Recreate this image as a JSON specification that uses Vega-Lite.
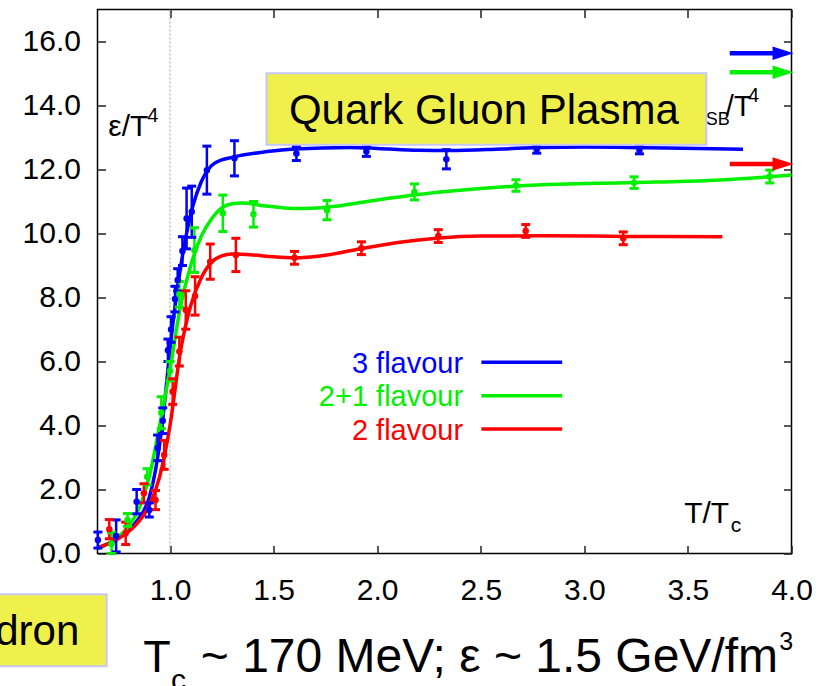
{
  "$schema": "https://vega.github.io/schema/vega-lite/v6.json",
  "width": 694,
  "height": 544,
  "autosize": "none",
  "padding": {"left": 97.5, "top": 9.5, "right": 35.5, "bottom": 132.5},
  "background": "#ffffff",
  "config": {
    "view": {"stroke": "#000000", "strokeWidth": 1.5},
    "font": "Liberation Sans",
    "text": {"font": "Liberation Sans"}
  },
  "datasets": {
    "pts": [
      {"s": "3 flavour", "x": 0.652, "y": 0.42, "lo": 0.17, "hi": 0.67},
      {"s": "3 flavour", "x": 0.74, "y": 0.55, "lo": 0.05, "hi": 1.05},
      {"s": "3 flavour", "x": 0.839, "y": 1.62, "lo": 1.24, "hi": 2.0},
      {"s": "3 flavour", "x": 0.9, "y": 1.36, "lo": 1.14, "hi": 1.58},
      {"s": "3 flavour", "x": 0.94, "y": 3.3, "lo": 2.9, "hi": 3.7},
      {"s": "3 flavour", "x": 0.965, "y": 4.15, "lo": 3.75, "hi": 4.55},
      {"s": "3 flavour", "x": 0.99, "y": 6.35, "lo": 6.0, "hi": 6.7},
      {"s": "3 flavour", "x": 1.005, "y": 7.0, "lo": 6.6, "hi": 7.4},
      {"s": "3 flavour", "x": 1.024, "y": 7.95, "lo": 7.55, "hi": 8.35},
      {"s": "3 flavour", "x": 1.037, "y": 8.55, "lo": 8.2, "hi": 8.9},
      {"s": "3 flavour", "x": 1.06, "y": 9.45, "lo": 9.0, "hi": 9.9},
      {"s": "3 flavour", "x": 1.08, "y": 10.47, "lo": 9.52, "hi": 11.42},
      {"s": "3 flavour", "x": 1.105, "y": 10.68, "lo": 9.88, "hi": 11.48},
      {"s": "3 flavour", "x": 1.178, "y": 11.98, "lo": 11.23, "hi": 12.73},
      {"s": "3 flavour", "x": 1.311, "y": 12.35, "lo": 11.8, "hi": 12.9},
      {"s": "3 flavour", "x": 1.61, "y": 12.5, "lo": 12.28, "hi": 12.72},
      {"s": "3 flavour", "x": 1.948, "y": 12.56, "lo": 12.41, "hi": 12.71},
      {"s": "3 flavour", "x": 2.334, "y": 12.32, "lo": 12.02, "hi": 12.62},
      {"s": "3 flavour", "x": 2.77, "y": 12.63, "lo": 12.51, "hi": 12.75},
      {"s": "3 flavour", "x": 3.266, "y": 12.61, "lo": 12.49, "hi": 12.73},
      {"s": "2+1 flavour", "x": 0.718, "y": 0.3, "lo": 0.0, "hi": 0.65},
      {"s": "2+1 flavour", "x": 0.795, "y": 1.05, "lo": 0.85, "hi": 1.25},
      {"s": "2+1 flavour", "x": 0.89, "y": 2.4, "lo": 2.15, "hi": 2.65},
      {"s": "2+1 flavour", "x": 0.958, "y": 4.4, "lo": 3.9, "hi": 4.9},
      {"s": "2+1 flavour", "x": 1.0, "y": 5.7, "lo": 5.4, "hi": 6.0},
      {"s": "2+1 flavour", "x": 1.045, "y": 8.1, "lo": 7.7, "hi": 8.5},
      {"s": "2+1 flavour", "x": 1.118, "y": 9.48, "lo": 8.78, "hi": 10.18},
      {"s": "2+1 flavour", "x": 1.255, "y": 10.63, "lo": 10.06, "hi": 11.2},
      {"s": "2+1 flavour", "x": 1.403, "y": 10.6, "lo": 10.2, "hi": 11.0},
      {"s": "2+1 flavour", "x": 1.758, "y": 10.73, "lo": 10.43, "hi": 11.03},
      {"s": "2+1 flavour", "x": 2.18, "y": 11.3, "lo": 11.05, "hi": 11.55},
      {"s": "2+1 flavour", "x": 2.67, "y": 11.5, "lo": 11.32, "hi": 11.68},
      {"s": "2+1 flavour", "x": 3.24, "y": 11.59, "lo": 11.41, "hi": 11.77},
      {"s": "2+1 flavour", "x": 3.895, "y": 11.78, "lo": 11.58, "hi": 11.98},
      {"s": "2 flavour", "x": 0.707, "y": 0.76, "lo": 0.46, "hi": 1.06},
      {"s": "2 flavour", "x": 0.786, "y": 0.63, "lo": 0.28, "hi": 0.98},
      {"s": "2 flavour", "x": 0.874, "y": 1.88, "lo": 1.58, "hi": 2.18},
      {"s": "2 flavour", "x": 0.93, "y": 1.67, "lo": 1.37, "hi": 1.97},
      {"s": "2 flavour", "x": 0.972, "y": 3.08, "lo": 2.63, "hi": 3.53},
      {"s": "2 flavour", "x": 1.013, "y": 5.06, "lo": 4.66, "hi": 5.46},
      {"s": "2 flavour", "x": 1.045, "y": 6.31, "lo": 5.86, "hi": 6.76},
      {"s": "2 flavour", "x": 1.076, "y": 7.61, "lo": 7.01, "hi": 8.21},
      {"s": "2 flavour", "x": 1.121, "y": 8.05, "lo": 7.45, "hi": 8.65},
      {"s": "2 flavour", "x": 1.194, "y": 9.12, "lo": 8.57, "hi": 9.67},
      {"s": "2 flavour", "x": 1.318, "y": 9.33, "lo": 8.81, "hi": 9.85},
      {"s": "2 flavour", "x": 1.601, "y": 9.24, "lo": 9.04, "hi": 9.44},
      {"s": "2 flavour", "x": 1.924, "y": 9.54, "lo": 9.34, "hi": 9.74},
      {"s": "2 flavour", "x": 2.295, "y": 9.92, "lo": 9.72, "hi": 10.12},
      {"s": "2 flavour", "x": 2.717, "y": 10.08, "lo": 9.88, "hi": 10.28},
      {"s": "2 flavour", "x": 3.188, "y": 9.85, "lo": 9.65, "hi": 10.05}
    ],
    "fit": [
      {"s": "3 flavour", "x": 0.65, "y": 0.18},
      {"s": "3 flavour", "x": 0.7, "y": 0.3},
      {"s": "3 flavour", "x": 0.75, "y": 0.48},
      {"s": "3 flavour", "x": 0.8, "y": 0.72},
      {"s": "3 flavour", "x": 0.85, "y": 1.1},
      {"s": "3 flavour", "x": 0.9, "y": 1.75},
      {"s": "3 flavour", "x": 0.93, "y": 2.6},
      {"s": "3 flavour", "x": 0.96, "y": 3.9},
      {"s": "3 flavour", "x": 0.98, "y": 5.1},
      {"s": "3 flavour", "x": 1.0, "y": 6.4},
      {"s": "3 flavour", "x": 1.02, "y": 7.5},
      {"s": "3 flavour", "x": 1.05, "y": 8.9},
      {"s": "3 flavour", "x": 1.08, "y": 10.0},
      {"s": "3 flavour", "x": 1.11, "y": 10.85},
      {"s": "3 flavour", "x": 1.15, "y": 11.6},
      {"s": "3 flavour", "x": 1.2, "y": 12.12},
      {"s": "3 flavour", "x": 1.25, "y": 12.3},
      {"s": "3 flavour", "x": 1.3, "y": 12.38},
      {"s": "3 flavour", "x": 1.47, "y": 12.56},
      {"s": "3 flavour", "x": 1.6, "y": 12.64},
      {"s": "3 flavour", "x": 1.87, "y": 12.69},
      {"s": "3 flavour", "x": 2.0, "y": 12.66},
      {"s": "3 flavour", "x": 2.2, "y": 12.6},
      {"s": "3 flavour", "x": 2.35, "y": 12.59},
      {"s": "3 flavour", "x": 2.6, "y": 12.64},
      {"s": "3 flavour", "x": 2.8, "y": 12.69},
      {"s": "3 flavour", "x": 3.0, "y": 12.7},
      {"s": "3 flavour", "x": 3.3, "y": 12.68},
      {"s": "3 flavour", "x": 3.55, "y": 12.66},
      {"s": "3 flavour", "x": 3.766, "y": 12.63},
      {"s": "2+1 flavour", "x": 0.65, "y": 0.15},
      {"s": "2+1 flavour", "x": 0.7, "y": 0.3},
      {"s": "2+1 flavour", "x": 0.75, "y": 0.52},
      {"s": "2+1 flavour", "x": 0.8, "y": 0.85},
      {"s": "2+1 flavour", "x": 0.85, "y": 1.4},
      {"s": "2+1 flavour", "x": 0.9, "y": 2.4},
      {"s": "2+1 flavour", "x": 0.95, "y": 4.0},
      {"s": "2+1 flavour", "x": 1.0, "y": 5.75},
      {"s": "2+1 flavour", "x": 1.05, "y": 7.7},
      {"s": "2+1 flavour", "x": 1.1, "y": 9.0},
      {"s": "2+1 flavour", "x": 1.15, "y": 9.9},
      {"s": "2+1 flavour", "x": 1.2, "y": 10.45},
      {"s": "2+1 flavour", "x": 1.25, "y": 10.8},
      {"s": "2+1 flavour", "x": 1.3, "y": 10.93},
      {"s": "2+1 flavour", "x": 1.35, "y": 10.95},
      {"s": "2+1 flavour", "x": 1.45, "y": 10.87},
      {"s": "2+1 flavour", "x": 1.55, "y": 10.8},
      {"s": "2+1 flavour", "x": 1.65, "y": 10.78},
      {"s": "2+1 flavour", "x": 1.8, "y": 10.85},
      {"s": "2+1 flavour", "x": 2.0, "y": 11.05},
      {"s": "2+1 flavour", "x": 2.2, "y": 11.22},
      {"s": "2+1 flavour", "x": 2.4, "y": 11.35},
      {"s": "2+1 flavour", "x": 2.6, "y": 11.45},
      {"s": "2+1 flavour", "x": 2.8, "y": 11.52},
      {"s": "2+1 flavour", "x": 3.0, "y": 11.56},
      {"s": "2+1 flavour", "x": 3.3, "y": 11.6},
      {"s": "2+1 flavour", "x": 3.6, "y": 11.66},
      {"s": "2+1 flavour", "x": 3.8, "y": 11.73},
      {"s": "2+1 flavour", "x": 4.0, "y": 11.83},
      {"s": "2 flavour", "x": 0.65, "y": 0.17},
      {"s": "2 flavour", "x": 0.7, "y": 0.3},
      {"s": "2 flavour", "x": 0.75, "y": 0.46},
      {"s": "2 flavour", "x": 0.8, "y": 0.68},
      {"s": "2 flavour", "x": 0.85, "y": 1.0},
      {"s": "2 flavour", "x": 0.9, "y": 1.5},
      {"s": "2 flavour", "x": 0.95, "y": 2.4},
      {"s": "2 flavour", "x": 1.0, "y": 4.0},
      {"s": "2 flavour", "x": 1.05, "y": 6.3},
      {"s": "2 flavour", "x": 1.1, "y": 7.75},
      {"s": "2 flavour", "x": 1.15, "y": 8.6},
      {"s": "2 flavour", "x": 1.2, "y": 9.1},
      {"s": "2 flavour", "x": 1.25, "y": 9.3},
      {"s": "2 flavour", "x": 1.3, "y": 9.36},
      {"s": "2 flavour", "x": 1.4, "y": 9.33},
      {"s": "2 flavour", "x": 1.5, "y": 9.27},
      {"s": "2 flavour", "x": 1.6, "y": 9.24},
      {"s": "2 flavour", "x": 1.75, "y": 9.32},
      {"s": "2 flavour", "x": 1.9, "y": 9.5},
      {"s": "2 flavour", "x": 2.1, "y": 9.72},
      {"s": "2 flavour", "x": 2.3, "y": 9.86},
      {"s": "2 flavour", "x": 2.5, "y": 9.92},
      {"s": "2 flavour", "x": 2.8, "y": 9.93},
      {"s": "2 flavour", "x": 3.2, "y": 9.91},
      {"s": "2 flavour", "x": 3.666, "y": 9.9}
    ],
    "sb": [
      {"s": "3 flavour", "x": 3.702, "x2": 3.93, "tip": 4.01, "y": 15.63},
      {"s": "2+1 flavour", "x": 3.702, "x2": 3.93, "tip": 4.01, "y": 15.04},
      {"s": "2 flavour", "x": 3.702, "x2": 3.93, "tip": 4.01, "y": 12.17}
    ],
    "leg": [
      {"s": "3 flavour", "label": "3 flavour", "tx": 2.415, "ty": 5.65, "x": 2.503, "x2": 2.893, "y": 5.975},
      {"s": "2+1 flavour", "label": "2+1 flavour", "tx": 2.415, "ty": 4.61, "x": 2.503, "x2": 2.893, "y": 4.93},
      {"s": "2 flavour", "label": "2 flavour", "tx": 2.415, "ty": 3.56, "x": 2.503, "x2": 2.893, "y": 3.89}
    ]
  },
  "layer": [
    {
      "data": {"values": [{"x": 1.0}]},
      "mark": {"type": "rule", "color": "#999999", "strokeWidth": 1, "strokeDash": [2, 2]},
      "encoding": {
        "x": {"field": "x", "type": "quantitative", "scale": {"domain": [0.65, 4], "nice": false, "zero": false}, "axis": null}
      }
    },
    {
      "data": {"name": "fit"},
      "mark": {"type": "line", "interpolate": "monotone", "strokeWidth": 3.5},
      "encoding": {
        "x": {"field": "x", "type": "quantitative", "scale": {"domain": [0.65, 4], "nice": false, "zero": false},
          "axis": {"orient": "bottom", "values": [1, 1.5, 2, 2.5, 3, 3.5, 4], "format": ".1f", "title": null, "domain": false, "grid": false,
            "labelFont": "Liberation Sans", "labelFontSize": 30, "labelColor": "#000000", "labelFlush": false, "labelOverlap": false,
            "tickSize": -8, "tickColor": "#222222", "tickWidth": 1.5, "labelPadding": 30}},
        "y": {"field": "y", "type": "quantitative", "scale": {"domain": [0, 17], "nice": false, "zero": false},
          "axis": {"orient": "left", "values": [0, 2, 4, 6, 8, 10, 12, 14, 16], "format": ".1f", "title": null, "domain": false, "grid": false,
            "labelFont": "Liberation Sans", "labelFontSize": 30, "labelColor": "#000000", "labelFlush": false, "labelOverlap": false,
            "tickSize": -8, "tickColor": "#222222", "tickWidth": 1.5, "labelPadding": 25}},
        "color": {"field": "s", "type": "nominal", "scale": {"domain": ["3 flavour", "2+1 flavour", "2 flavour"], "range": ["#0000ff", "#00f000", "#ff0000"]}, "legend": null},
        "order": {"field": "x", "type": "quantitative"}
      }
    },
    {
      "data": {"name": "pts"},
      "mark": {"type": "rule", "strokeWidth": 2.5},
      "encoding": {
        "x": {"field": "x", "type": "quantitative", "scale": {"domain": [0.65, 4], "nice": false, "zero": false}, "axis": null},
        "y": {"field": "lo", "type": "quantitative", "scale": {"domain": [0, 17], "nice": false, "zero": false}, "axis": null},
        "y2": {"field": "hi"},
        "color": {"field": "s", "type": "nominal", "scale": {"domain": ["3 flavour", "2+1 flavour", "2 flavour"], "range": ["#0000ff", "#00f000", "#ff0000"]}, "legend": null}
      }
    },
    {
      "data": {"name": "pts"},
      "mark": {"type": "tick", "orient": "horizontal", "size": 9, "thickness": 3, "opacity": 1},
      "encoding": {
        "x": {"field": "x", "type": "quantitative", "scale": {"domain": [0.65, 4], "nice": false, "zero": false}, "axis": null},
        "y": {"field": "lo", "type": "quantitative", "scale": {"domain": [0, 17], "nice": false, "zero": false}, "axis": null},
        "color": {"field": "s", "type": "nominal", "scale": {"domain": ["3 flavour", "2+1 flavour", "2 flavour"], "range": ["#0000ff", "#00f000", "#ff0000"]}, "legend": null}
      }
    },
    {
      "data": {"name": "pts"},
      "mark": {"type": "tick", "orient": "horizontal", "size": 9, "thickness": 3, "opacity": 1},
      "encoding": {
        "x": {"field": "x", "type": "quantitative", "scale": {"domain": [0.65, 4], "nice": false, "zero": false}, "axis": null},
        "y": {"field": "hi", "type": "quantitative", "scale": {"domain": [0, 17], "nice": false, "zero": false}, "axis": null},
        "color": {"field": "s", "type": "nominal", "scale": {"domain": ["3 flavour", "2+1 flavour", "2 flavour"], "range": ["#0000ff", "#00f000", "#ff0000"]}, "legend": null}
      }
    },
    {
      "data": {"name": "pts"},
      "mark": {"type": "point", "filled": true, "shape": "circle", "size": 42, "opacity": 1},
      "encoding": {
        "x": {"field": "x", "type": "quantitative", "scale": {"domain": [0.65, 4], "nice": false, "zero": false},
          "axis": {"orient": "top", "values": [1, 1.5, 2, 2.5, 3, 3.5, 4], "labels": false, "title": null, "domain": false, "grid": false,
            "tickSize": -8, "tickColor": "#222222", "tickWidth": 1.5}},
        "y": {"field": "y", "type": "quantitative", "scale": {"domain": [0, 17], "nice": false, "zero": false},
          "axis": {"orient": "right", "values": [0, 2, 4, 6, 8, 10, 12, 14, 16], "labels": false, "title": null, "domain": false, "grid": false,
            "tickSize": -8, "tickColor": "#222222", "tickWidth": 1.5}},
        "color": {"field": "s", "type": "nominal", "scale": {"domain": ["3 flavour", "2+1 flavour", "2 flavour"], "range": ["#0000ff", "#00f000", "#ff0000"]}, "legend": null}
      }
    },
    {
      "data": {"values": [{"t": "SB", "x": 3.586, "y": 13.39}]},
      "mark": {"type": "text", "align": "left", "baseline": "alphabetic", "fontSize": 18, "color": "#000000"},
      "encoding": {
        "x": {"field": "x", "type": "quantitative", "scale": {"domain": [0.65, 4], "nice": false, "zero": false}, "axis": null},
        "y": {"field": "y", "type": "quantitative", "scale": {"domain": [0, 17], "nice": false, "zero": false}, "axis": null},
        "text": {"field": "t"}
      }
    },
    {
      "data": {"values": [{"t": "/T", "x": 3.683, "y": 13.67}]},
      "mark": {"type": "text", "align": "left", "baseline": "alphabetic", "fontSize": 29, "color": "#000000"},
      "encoding": {
        "x": {"field": "x", "type": "quantitative", "scale": {"domain": [0.65, 4], "nice": false, "zero": false}, "axis": null},
        "y": {"field": "y", "type": "quantitative", "scale": {"domain": [0, 17], "nice": false, "zero": false}, "axis": null},
        "text": {"field": "t"}
      }
    },
    {
      "data": {"values": [{"t": "4", "x": 3.79, "y": 14.12}, {"t": "4", "x": 0.89, "y": 13.49}]},
      "mark": {"type": "text", "align": "left", "baseline": "alphabetic", "fontSize": 20, "color": "#000000"},
      "encoding": {
        "x": {"field": "x", "type": "quantitative", "scale": {"domain": [0.65, 4], "nice": false, "zero": false}, "axis": null},
        "y": {"field": "y", "type": "quantitative", "scale": {"domain": [0, 17], "nice": false, "zero": false}, "axis": null},
        "text": {"field": "t"}
      }
    },
    {
      "data": {"values": [{"x": 1.466, "x2": 3.589, "y": 15.01, "y2": 12.77}, {"x": 0.0, "x2": 0.694, "y": -1.275, "y2": -3.52}]},
      "mark": {"type": "rect", "fill": "#f0f04c", "stroke": "#c6c6f4", "strokeWidth": 2},
      "encoding": {
        "x": {"field": "x", "type": "quantitative", "scale": {"domain": [0.65, 4], "nice": false, "zero": false}, "axis": null},
        "x2": {"field": "x2"},
        "y": {"field": "y", "type": "quantitative", "scale": {"domain": [0, 17], "nice": false, "zero": false}, "axis": null},
        "y2": {"field": "y2"}
      }
    },
    {
      "data": {"values": [{"t": "Quark Gluon Plasma", "x": 2.515, "y": 13.42}]},
      "mark": {"type": "text", "align": "center", "baseline": "alphabetic", "fontSize": 42, "color": "#000000"},
      "encoding": {
        "x": {"field": "x", "type": "quantitative", "scale": {"domain": [0.65, 4], "nice": false, "zero": false}, "axis": null},
        "y": {"field": "y", "type": "quantitative", "scale": {"domain": [0, 17], "nice": false, "zero": false}, "axis": null},
        "text": {"field": "t"}
      }
    },
    {
      "data": {"values": [{"t": "Hadron", "x": 0.562, "y": -2.86}]},
      "mark": {"type": "text", "align": "right", "baseline": "alphabetic", "fontSize": 42, "color": "#000000"},
      "encoding": {
        "x": {"field": "x", "type": "quantitative", "scale": {"domain": [0.65, 4], "nice": false, "zero": false}, "axis": null},
        "y": {"field": "y", "type": "quantitative", "scale": {"domain": [0, 17], "nice": false, "zero": false}, "axis": null},
        "text": {"field": "t"}
      }
    },
    {
      "data": {"name": "sb"},
      "mark": {"type": "rule", "strokeWidth": 4.5},
      "encoding": {
        "x": {"field": "x", "type": "quantitative", "scale": {"domain": [0.65, 4], "nice": false, "zero": false}, "axis": null},
        "x2": {"field": "x2"},
        "y": {"field": "y", "type": "quantitative", "scale": {"domain": [0, 17], "nice": false, "zero": false}, "axis": null},
        "color": {"field": "s", "type": "nominal", "scale": {"domain": ["3 flavour", "2+1 flavour", "2 flavour"], "range": ["#0000ff", "#00f000", "#ff0000"]}, "legend": null}
      }
    },
    {
      "data": {"name": "sb"},
      "mark": {"type": "point", "filled": true, "opacity": 1, "shape": "M0,0L-1,-0.32L-1,0.32Z", "size": 1764},
      "encoding": {
        "x": {"field": "tip", "type": "quantitative", "scale": {"domain": [0.65, 4], "nice": false, "zero": false}, "axis": null},
        "y": {"field": "y", "type": "quantitative", "scale": {"domain": [0, 17], "nice": false, "zero": false}, "axis": null},
        "color": {"field": "s", "type": "nominal", "scale": {"domain": ["3 flavour", "2+1 flavour", "2 flavour"], "range": ["#0000ff", "#00f000", "#ff0000"]}, "legend": null}
      }
    },
    {
      "data": {"name": "leg"},
      "mark": {"type": "rule", "strokeWidth": 3.5},
      "encoding": {
        "x": {"field": "x", "type": "quantitative", "scale": {"domain": [0.65, 4], "nice": false, "zero": false}, "axis": null},
        "x2": {"field": "x2"},
        "y": {"field": "y", "type": "quantitative", "scale": {"domain": [0, 17], "nice": false, "zero": false}, "axis": null},
        "color": {"field": "s", "type": "nominal", "scale": {"domain": ["3 flavour", "2+1 flavour", "2 flavour"], "range": ["#0000ff", "#00f000", "#ff0000"]}, "legend": null}
      }
    },
    {
      "data": {"name": "leg"},
      "mark": {"type": "text", "align": "right", "baseline": "alphabetic", "fontSize": 29},
      "encoding": {
        "x": {"field": "tx", "type": "quantitative", "scale": {"domain": [0.65, 4], "nice": false, "zero": false}, "axis": null},
        "y": {"field": "ty", "type": "quantitative", "scale": {"domain": [0, 17], "nice": false, "zero": false}, "axis": null},
        "text": {"field": "label"},
        "color": {"field": "s", "type": "nominal", "scale": {"domain": ["3 flavour", "2+1 flavour", "2 flavour"], "range": ["#0000ff", "#00f000", "#ff0000"]}, "legend": null}
      }
    },
    {
      "data": {"values": [{"t": "ε/T", "x": 0.702, "y": 13.05}, {"t": "T/T", "x": 3.482, "y": 0.944}]},
      "mark": {"type": "text", "align": "left", "baseline": "alphabetic", "fontSize": 30, "color": "#000000"},
      "encoding": {
        "x": {"field": "x", "type": "quantitative", "scale": {"domain": [0.65, 4], "nice": false, "zero": false}, "axis": null},
        "y": {"field": "y", "type": "quantitative", "scale": {"domain": [0, 17], "nice": false, "zero": false}, "axis": null},
        "text": {"field": "t"}
      }
    },
    {
      "data": {"values": [{"t": "c", "x": 3.707, "y": 0.68}]},
      "mark": {"type": "text", "align": "left", "baseline": "alphabetic", "fontSize": 21, "color": "#000000"},
      "encoding": {
        "x": {"field": "x", "type": "quantitative", "scale": {"domain": [0.65, 4], "nice": false, "zero": false}, "axis": null},
        "y": {"field": "y", "type": "quantitative", "scale": {"domain": [0, 17], "nice": false, "zero": false}, "axis": null},
        "text": {"field": "t"}
      }
    },
    {
      "data": {"values": [{"t": "T", "x": 0.871, "y": -3.694}]},
      "mark": {"type": "text", "align": "left", "baseline": "alphabetic", "fontSize": 45, "color": "#000000"},
      "encoding": {
        "x": {"field": "x", "type": "quantitative", "scale": {"domain": [0.65, 4], "nice": false, "zero": false}, "axis": null},
        "y": {"field": "y", "type": "quantitative", "scale": {"domain": [0, 17], "nice": false, "zero": false}, "axis": null},
        "text": {"field": "t"}
      }
    },
    {
      "data": {"values": [{"t": "c", "x": 1.005, "y": -4.25}]},
      "mark": {"type": "text", "align": "left", "baseline": "alphabetic", "fontSize": 30, "color": "#000000"},
      "encoding": {
        "x": {"field": "x", "type": "quantitative", "scale": {"domain": [0.65, 4], "nice": false, "zero": false}, "axis": null},
        "y": {"field": "y", "type": "quantitative", "scale": {"domain": [0, 17], "nice": false, "zero": false}, "axis": null},
        "text": {"field": "t"}
      }
    },
    {
      "data": {"values": [{"t": "~ 170 MeV; ε ~ 1.5 GeV/fm", "x": 3.935, "y": -3.694}]},
      "mark": {"type": "text", "align": "right", "baseline": "alphabetic", "fontSize": 48, "color": "#000000"},
      "encoding": {
        "x": {"field": "x", "type": "quantitative", "scale": {"domain": [0.65, 4], "nice": false, "zero": false}, "axis": null},
        "y": {"field": "y", "type": "quantitative", "scale": {"domain": [0, 17], "nice": false, "zero": false}, "axis": null},
        "text": {"field": "t"}
      }
    },
    {
      "data": {"values": [{"t": "3", "x": 3.941, "y": -3.016}]},
      "mark": {"type": "text", "align": "left", "baseline": "alphabetic", "fontSize": 25, "color": "#000000"},
      "encoding": {
        "x": {"field": "x", "type": "quantitative", "scale": {"domain": [0.65, 4], "nice": false, "zero": false}, "axis": null},
        "y": {"field": "y", "type": "quantitative", "scale": {"domain": [0, 17], "nice": false, "zero": false}, "axis": null},
        "text": {"field": "t"}
      }
    }
  ],
  "resolve": {"axis": {"x": "independent", "y": "independent"}}
}
